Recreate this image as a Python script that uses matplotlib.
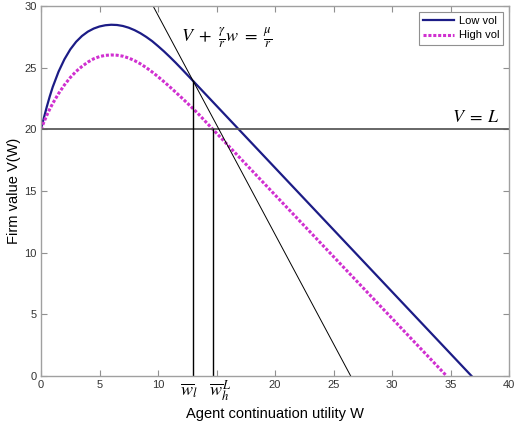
import numpy as np
import matplotlib
matplotlib.use("Agg")
import matplotlib.pyplot as plt

plt.rcParams["font.family"] = ["Liberation Sans", "DejaVu Sans"]
plt.rcParams["mathtext.fontset"] = "stix"

# firm value curves
w_low = [0, 0.25, 0.5, 0.75, 1.0, 1.5, 2.0, 2.5, 3.0, 3.5, 4.0, 4.5, 5.0, 5.5, 6.0,
         6.5, 7.0, 7.5, 8.0, 8.5, 9.0, 9.5, 10.0, 10.5, 11.0, 11.5, 12.0, 12.5, 13.0, 36.8]
v_low = [20.0, 20.95, 21.85, 22.68, 23.43, 24.68, 25.68, 26.48, 27.1, 27.57, 27.92, 28.17, 28.34, 28.44, 28.48,
         28.46, 28.38, 28.24, 28.04, 27.79, 27.49, 27.15, 26.75, 26.33, 25.88, 25.41, 24.92, 24.42, 23.92, 0.0]

w_high = [0, 0.25, 0.5, 0.75, 1.0, 1.5, 2.0, 2.5, 3.0, 3.5, 4.0, 4.5, 5.0, 5.5, 6.0,
          6.5, 7.0, 7.5, 8.0, 8.5, 9.0, 9.5, 10.0, 10.5, 11.0, 11.5, 12.0, 12.5, 13.0, 13.5, 14.0, 34.67]
v_high = [20.0, 20.6, 21.15, 21.65, 22.1, 22.9, 23.6, 24.2, 24.7, 25.1, 25.45, 25.72, 25.9, 26.0, 26.03,
          26.01, 25.93, 25.78, 25.57, 25.31, 25.0, 24.65, 24.27, 23.87, 23.45, 23.02, 22.58, 22.13, 21.67, 21.2, 20.69, 0.0]

L = 20.0              # liquidation value
gamma_r = 1.776       # gamma / r
mu_r = 47.01          # mu / r
w_bar_l = 13.0
v_bar_l = 23.92
w_bar_hL = 14.67

x_ticks = [0, 5, 10, 15, 20, 25, 30, 35, 40]
x_labels = ["0", "5", "10", "", "20", "25", "30", "35", "40"]
y_ticks = [0, 5, 10, 15, 20, 25, 30]

fig = plt.figure(figsize=(5.14, 4.29), dpi=100)
ax = fig.add_axes([0.0798, 0.1235, 0.9105, 0.8625])

ax.plot(w_low, v_low, color="#1c1c86", lw=1.6, label="Low vol")
ax.plot(w_high, v_high, color="#d030d0", lw=2.2, ls=(0, (1, 0.6)), label="High vol")

ax.axhline(L, color="#5a5a5a", lw=1.3)
w_line = np.array([0, 40])
ax.plot(w_line, mu_r - gamma_r * w_line, color="black", lw=0.7)
ax.plot([w_bar_l, w_bar_l], [0, v_bar_l], color="black", lw=1.0)
ax.plot([w_bar_hL, w_bar_hL], [0, L], color="black", lw=1.0)

ax.set_xlim(0, 40)
ax.set_ylim(0, 30)
ax.set_xticks(x_ticks)
ax.set_xticklabels(x_labels)
ax.set_yticks(y_ticks)
ax.tick_params(direction="in", length=4, width=0.8, color="#909090", labelcolor="#333333",
               labelsize=8, top=True, right=True, pad=3)
for s in ax.spines.values():
    s.set_color("#a0a0a0")
    s.set_linewidth(1.0)

ax.set_xlabel("Agent continuation utility W", fontsize=10.5, labelpad=12)
ax.set_ylabel("Firm value V(W)", fontsize=10.5)
ax.yaxis.set_label_coords(-0.042, 0.5)

ax.text(11.97, 27.4, r"$V\ +\ \frac{\gamma}{r}w\ =\ \frac{\mu}{r}$", fontsize=13, va="center", ha="left")
ax.text(39.2, 21.0, r"$V\;=\;L$", fontsize=13, va="center", ha="right")
ax.text(12.65, -1.2, r"$\overline{w}_l$", fontsize=13, va="center", ha="center", clip_on=False)
ax.text(15.3, -1.2, r"$\overline{w}_h^{\,L}$", fontsize=13, va="center", ha="center", clip_on=False)

leg = ax.legend(loc="upper right", fontsize=8, fancybox=False, framealpha=1,
                edgecolor="#909090", handlelength=2.8, borderaxespad=0.5,
                borderpad=0.4, labelspacing=0.4, handletextpad=0.4)
leg.get_frame().set_linewidth(0.8)

fig.savefig("out.png", dpi=100)
